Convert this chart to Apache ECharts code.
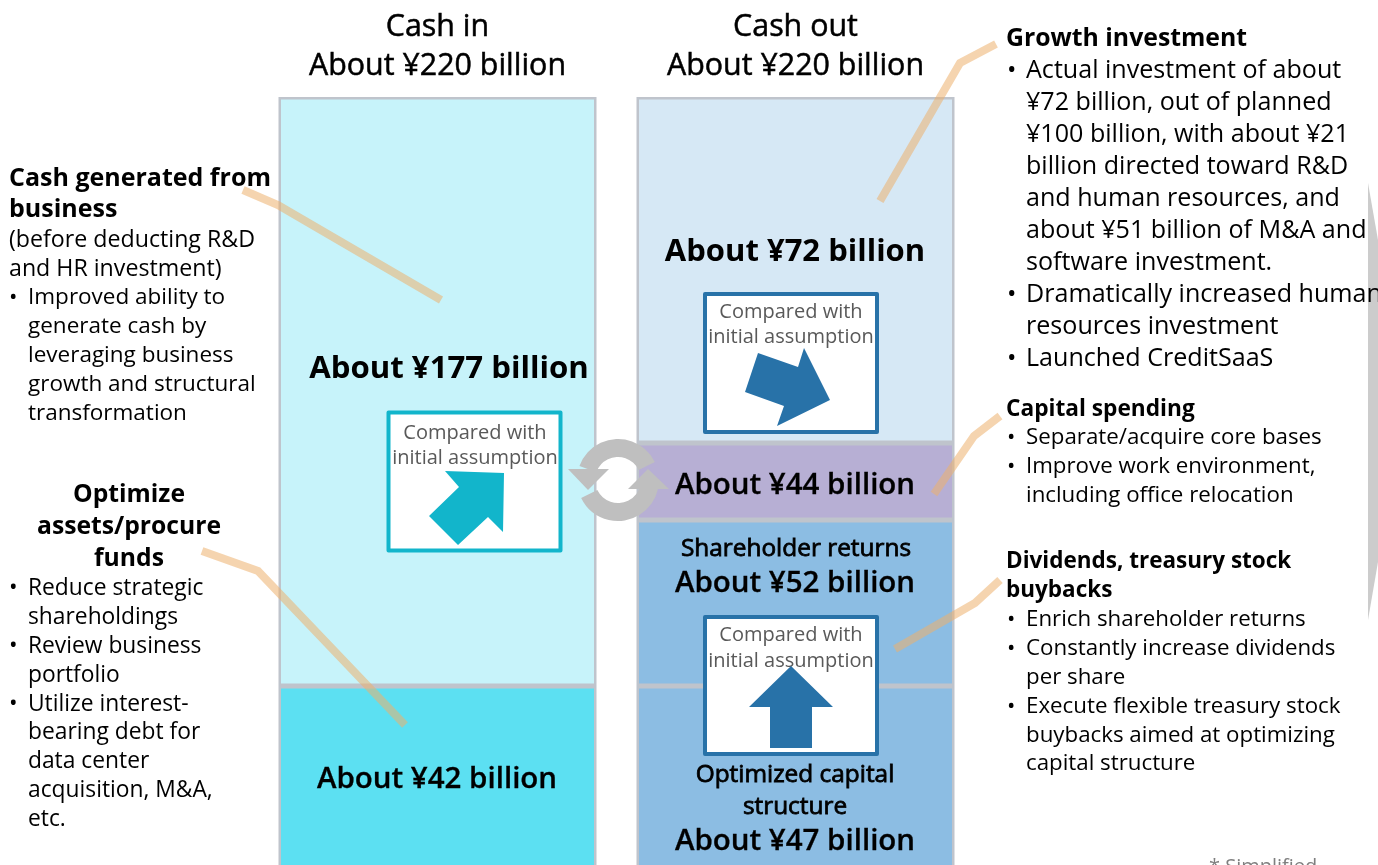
<!DOCTYPE html>
<html><head><meta charset="utf-8">
<style>html,body{margin:0;padding:0;background:#fff;overflow:hidden}#c{width:1378px;height:865px}</style>
<script src="https://cdn.jsdelivr.net/npm/echarts@6/dist/echarts.min.js"></script>
</head><body><div id="c"></div>
<script>
// Column headings
const categories = ['Cash in\nAbout ¥220 billion', 'Cash out\nAbout ¥220 billion'];
// Stated amounts (¥ billion) printed in the blocks
const cashInAmounts = [177, 42];
const cashOutAmounts = [72, 44, 52, 47];
// Block extents as drawn (the slide's blocks are schematic, not to scale)
const cashInBlocks = [589, 220];
const cashOutBlocks = [346, 77, 166, 220];
// Annotation text
const businessTitle = ['Cash generated from', 'business'];
const businessNote = ['(before deducting R&D', 'and HR investment)'];
const businessBullets = ['• Improved ability to', 'generate cash by', 'leveraging business', 'growth and structural', 'transformation'];
const assetsTitle = ['Optimize', 'assets/procure', 'funds'];
const assetsBullets = ['• Reduce strategic', 'shareholdings', '• Review business', 'portfolio', '• Utilize interest-', 'bearing debt for', 'data center', 'acquisition, M&A,', 'etc.'];
const growthTitle = ['Growth investment'];
const growthBullets = ['• Actual investment of about', '¥72 billion, out of planned', '¥100 billion, with about ¥21', 'billion directed toward R&D', 'and human resources, and', 'about ¥51 billion of M&A and', 'software investment.', '• Dramatically increased human', 'resources investment', '• Launched CreditSaaS'];
const capexTitle = ['Capital spending'];
const capexBullets = ['• Separate/acquire core bases', '• Improve work environment,', 'including office relocation'];
const returnTitle = ['Dividends, treasury stock', 'buybacks'];
const returnBullets = ['• Enrich shareholder returns', '• Constantly increase dividends', 'per share', '• Execute flexible treasury stock', 'buybacks aimed at optimizing', 'capital structure'];
const compareText = ['Compared with', 'initial assumption'];
const footnote = '* Simplified';

const FONT = '"Open Sans","Noto Sans",sans-serif';
const chart = echarts.init(document.getElementById('c'), null, {renderer: 'canvas'});
const el = [];
function T(text, x, y, size, opt) {
  opt = opt || {};
  el.push({type: 'text', z: opt.z || 20, silent: true, style: {
    text, x, y: y + 2, fontSize: size, fontFamily: FONT, fontWeight: opt.weight || 'normal',
    fill: opt.fill || '#000', textAlign: opt.align || 'left', textVerticalAlign: 'middle',
    stroke: opt.sw ? (opt.fill || '#000') : null, lineWidth: opt.sw || 0
  }});
}
function lines(arr, x, y0, step, size, opt) {
  arr.forEach((s, i) => {
    const y = y0 + i * step;
    if (s.startsWith('• ')) { T('•', x, y, size, opt); T(s.slice(2), x + 19, y, size, opt); }
    else if (opt && opt.bulleted) { T(s, x + 19, y, size, opt); }
    else T(s, x, y, size, opt);
  });
}
function leader(pts) {
  el.push({type: 'polyline', z: 8, silent: true, shape: {points: pts},
    style: {stroke: 'rgba(237,177,110,0.55)', lineWidth: 8, fill: null, lineJoin: 'miter'}});
}
function poly(pts, fill, z) {
  el.push({type: 'polygon', z: z || 12, silent: true, shape: {points: pts}, style: {fill}});
}
function box(x, y, w, h, color, tx, ty1, ty2) {
  el.push({type: 'rect', z: 10, silent: true, shape: {x, y, width: w, height: h},
    style: {fill: '#fff', stroke: color, lineWidth: 4, lineJoin: 'round'}});
  T(compareText[0], tx, ty1, 20, {align: 'center', fill: '#595959', z: 11});
  T(compareText[1], tx, ty2, 20, {align: 'center', fill: '#595959', z: 11});
}

// side wedge
poly([[1368, 183], [1378, 240], [1378, 562], [1368, 620]], '#cccccc', 1);

// leaders
leader([[243, 190], [278, 205], [441, 300]]);
leader([[202, 551], [258, 571], [405, 725]]);
leader([[996, 44], [960, 63], [880, 201]]);
leader([[1000, 416], [974, 436], [934, 494]]);
leader([[1000, 580], [975, 603], [895, 649]]);

// comparison boxes
box(388.5, 412.5, 172, 138, '#12b5cb', 475, 431, 456);
poly([[445, 471], [504, 473], [503, 532], [488, 517], [458, 545], [429, 516], [459, 487]], '#12b5cb');
box(705, 294, 172, 138, '#2872a8', 791, 310, 335);
poly([[758, 353], [798, 367], [804, 348], [830, 400], [777, 426], [784, 406], [745, 392]], '#2872a8');
box(705, 617, 172, 137, '#2872a8', 791, 633, 659);
poly([[791, 666], [833, 707], [812, 707], [812, 748], [770, 748], [770, 707], [749, 707]], '#2872a8');

// recycle icon
const GR = '#bfbfbf';
el.push({type: 'sector', z: 14, silent: true, shape: {cx: 618, cy: 480, r: 41, r0: 23, startAngle: -160 * Math.PI / 180, endAngle: -26 * Math.PI / 180, clockwise: true}, style: {fill: GR}});
el.push({type: 'sector', z: 14, silent: true, shape: {cx: 618, cy: 480, r: 41, r0: 23, startAngle: 13 * Math.PI / 180, endAngle: 154 * Math.PI / 180, clockwise: true}, style: {fill: GR}});
poly([[568, 469], [609, 469], [588, 490]], GR, 14);
poly([[628, 489], [669, 489], [648, 469]], GR, 14);

// block labels
const B = {align: 'center', weight: 'bold'};
const M = {align: 'center', weight: '600', sw: 0.3};
const N = {align: 'center', sw: 0.8};
T(`About ¥${cashInAmounts[0]} billion`, 449, 367, 31.2, B);
T(`About ¥${cashInAmounts[1]} billion`, 437, 778, 29.5, M);
T(`About ¥${cashOutAmounts[0]} billion`, 795, 250, 31, B);
T(`About ¥${cashOutAmounts[1]} billion`, 795, 484, 29.5, M);
T('Shareholder returns', 796, 547, 24.4, N);
T(`About ¥${cashOutAmounts[2]} billion`, 795, 582, 29.5, M);
T('Optimized capital', 795, 773, 24.4, N);
T('structure', 795, 805, 24.4, N);
T(`About ¥${cashOutAmounts[3]} billion`, 795, 840, 29.5, M);

// left annotations
lines(businessTitle, 9, 177, 31, 25, {weight: 'bold'});
lines(businessNote, 9, 238, 29, 23.2);
lines(businessBullets, 9, 296, 28.8, 22.5, {bulleted: true});
lines(assetsTitle, 129, 493, 32, 24.7, {weight: 'bold', align: 'center'});
lines(assetsBullets, 9, 587, 28.8, 22.8, {bulleted: true});

// right annotations
lines(growthTitle, 1006, 37, 0, 24.8, {weight: 'bold'});
lines(growthBullets, 1007, 69, 32, 25.1, {bulleted: true});
lines(capexTitle, 1006, 408, 0, 22.7, {weight: 'bold'});
lines(capexBullets, 1007, 436, 29, 22.3, {bulleted: true});
lines(returnTitle, 1006, 560, 29, 22.5, {weight: 'bold'});
lines(returnBullets, 1007, 618, 28.8, 22.3, {bulleted: true});
T(footnote, 1209, 865, 20, {fill: '#7f7f7f'});

function block(cat, value, color) {
  const data = [null, null]; data[cat] = value;
  return {type: 'bar', stack: 'cat' + cat, data, barWidth: 318, barGap: '-100%', z: 2, silent: true,
    itemStyle: {color, borderColor: '#bfc4cc', borderWidth: 2.5}};
}
const colsIn = ['#c7f3fa', '#5ce0f2'];
const colsOut = ['#d6e8f5', '#b7afd4', '#8cbde3', '#8cbde3'];
chart.setOption({
  animation: false,
  backgroundColor: '#fff',
  textStyle: {fontFamily: FONT},
  grid: {left: 258.5, width: 716, top: 94, height: 800, outerBoundsMode: 'none'},
  xAxis: {type: 'category', data: categories, position: 'top',
    axisLine: {show: false}, axisTick: {show: false},
    axisLabel: {interval: 0, fontSize: 30.4, lineHeight: 39, color: '#000', margin: 8, fontFamily: FONT,
      textBorderColor: '#000', textBorderWidth: 0.5}},
  yAxis: {type: 'value', inverse: true, min: -3, max: 797, show: false, splitLine: {show: false}},
  series: [
    ...cashInBlocks.map((v, i) => block(0, v, colsIn[i])),
    ...cashOutBlocks.map((v, i) => block(1, v, colsOut[i]))
  ],
  graphic: {elements: el}
});
</script></body></html>
